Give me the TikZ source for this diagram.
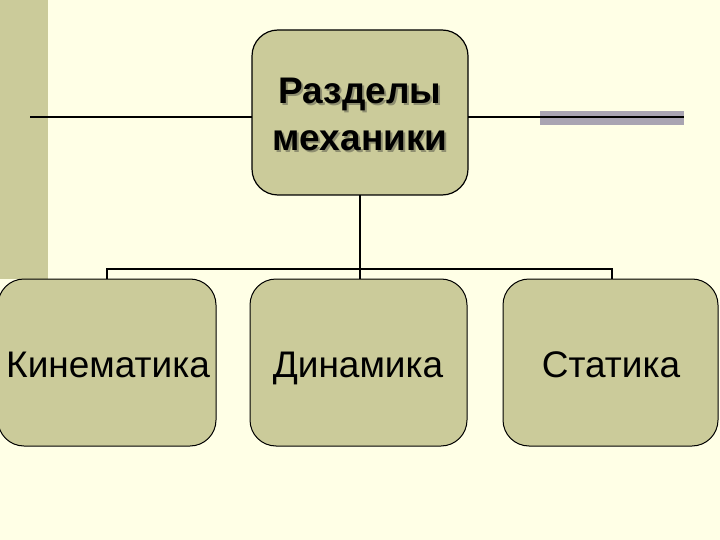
\documentclass[tikz,border=0pt]{standalone}
\usepackage{fontspec}
\setmainfont{Liberation Sans}
\newcommand{\shadowed}[1]{\makebox[0pt][l]{\hspace{2pt}\raisebox{-2pt}{\textcolor{shadowc}{#1}}}#1}
\begin{document}
\begin{tikzpicture}[x=1pt,y=-1pt,
  box/.style={draw=black, line width=1pt, fill=boxfill, rounded corners=26pt},
  conn/.style={draw=black, line width=2pt},
  lbl/.style={font=\fontsize{37}{40}\selectfont, text=black, anchor=base, inner sep=0pt}]
\definecolor{bg}{HTML}{FFFFE6}
\definecolor{boxfill}{HTML}{CBCB9A}
\definecolor{strip}{HTML}{CBCB9A}
\definecolor{barc}{HTML}{A9A4B2}
\definecolor{shadowc}{HTML}{8E8E70}
\useasboundingbox (0,0) rectangle (720,540);
\fill[bg] (0,0) rectangle (720,540);
\fill[strip] (0,0) rectangle (48,279);
% gray bar
\fill[barc] (540,111) rectangle (684,125);
% top box
\draw[box, line width=1.2pt] (252,30) rectangle (468,195);
\node[font=\bfseries\fontsize{37}{47}\selectfont, text=black, align=center, inner sep=0pt] (toplbl) at (360,115) {\shadowed{Разделы}\\\shadowed{механики}};
\coordinate (tl) at (252,117);
\coordinate (tr) at (468,117);
\coordinate (lend) at (30,117);
\coordinate (rend) at (684,117);
\draw[conn] (lend) -- (tl);
\draw[conn] (tr) -- (rend);
% bottom boxes
\draw[box] (-2,279) rectangle (216,446);
\draw[box] (250,279) rectangle (467,446);
\draw[box] (503,279) rectangle (718,446);
\node[lbl] (kin) at (108,377) {Кинематика};
\node[lbl] (din) at (358,377) {Динамика};
\node[lbl] (sta) at (611,377) {Статика};
% connectors
\coordinate (tb) at (360,195);
\coordinate (j) at (360,269);
\coordinate (k1) at (107,269);
\coordinate (k2) at (107,279);
\coordinate (s1) at (612,269);
\coordinate (s2) at (612,279);
\coordinate (d2) at (360,279);
\draw[conn] (tb) -- (d2);
\draw[conn] (k2) -- (k1) -- (s1) -- (s2);
\end{tikzpicture}
\end{document}
